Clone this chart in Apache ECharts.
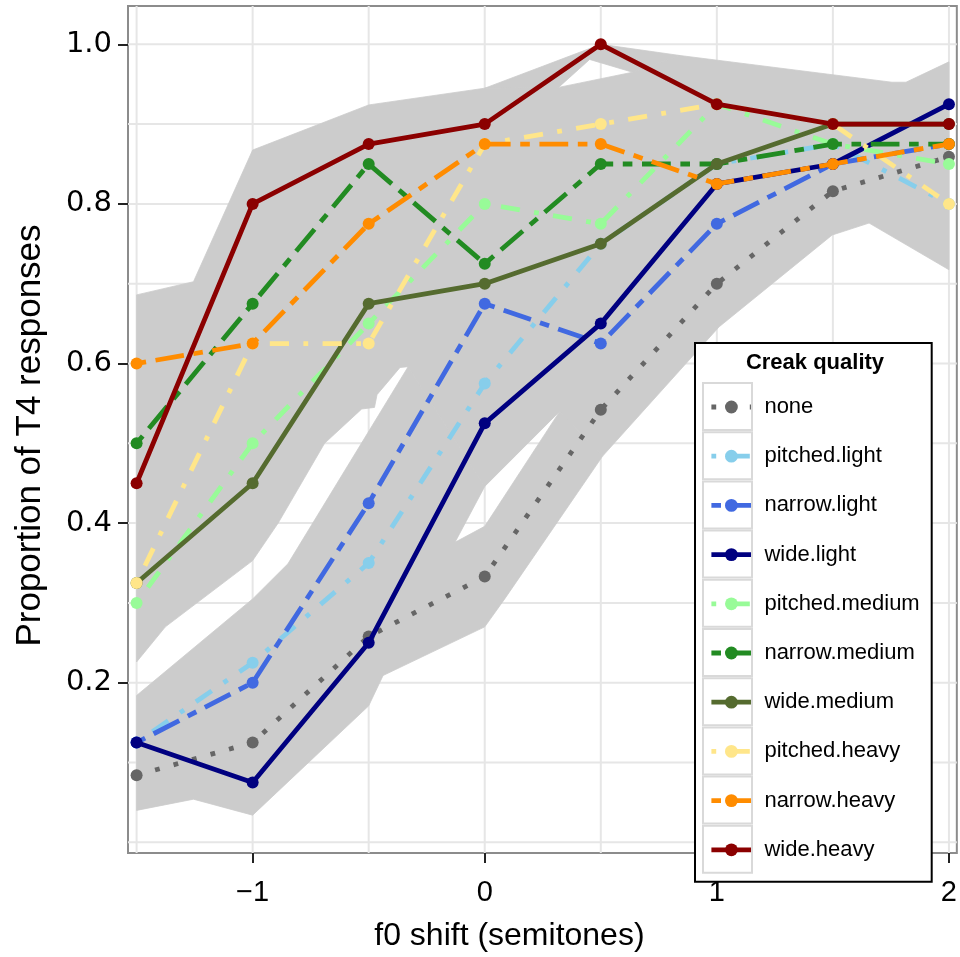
<!DOCTYPE html>
<html>
<head>
<meta charset="utf-8">
<title>Creak quality</title>
<script src="https://cdn.jsdelivr.net/npm/echarts@6.0.0/dist/echarts.min.js"></script>
<style>
  html, body { margin: 0; padding: 0; background: #fff; }
  #main { width: 960px; height: 957px; }
</style>
</head>
<body>
<div id="main"></div>
<script>
// f0 shift steps (semitones)
var shifts = [-1.5, -1, -0.5, 0, 0.5, 1, 1.5, 2];

// proportion of T4 responses per creak quality
var none          = [0.084, 0.125, 0.258, 0.333, 0.542, 0.700, 0.816, 0.859];
var pitchedLight  = [0.125, 0.225, 0.350, 0.575, 0.750, 0.850, 0.875, 0.800];
var narrowLight   = [0.125, 0.200, 0.425, 0.675, 0.625, 0.775, 0.850, 0.875];
var wideLight     = [0.125, 0.075, 0.250, 0.525, 0.650, 0.825, 0.850, 0.925];
var pitchedMedium = [0.300, 0.500, 0.650, 0.800, 0.775, 0.925, 0.875, 0.850];
var narrowMedium  = [0.500, 0.675, 0.850, 0.725, 0.850, 0.850, 0.875, 0.875];
var wideMedium    = [0.325, 0.450, 0.675, 0.700, 0.750, 0.850, 0.900, 0.900];
var pitchedHeavy  = [0.325, 0.625, 0.625, 0.875, 0.900, 0.925, 0.900, 0.800];
var narrowHeavy   = [0.600, 0.625, 0.775, 0.875, 0.875, 0.825, 0.850, 0.875];
var wideHeavy     = [0.450, 0.800, 0.875, 0.900, 1.000, 0.925, 0.900, 0.900];

var creakNames = ['none', 'pitched.light', 'narrow.light', 'wide.light',
  'pitched.medium', 'narrow.medium', 'wide.medium',
  'pitched.heavy', 'narrow.heavy', 'wide.heavy'];
var creakValues = [none, pitchedLight, narrowLight, wideLight,
  pitchedMedium, narrowMedium, wideMedium,
  pitchedHeavy, narrowHeavy, wideHeavy];

// grey confidence ribbons (outline of the union), [shift, proportion]
var bandUpper = [
  [-1.5, 0.686], [-1.255, 0.7025], [-1, 0.8675], [-0.5, 0.924], [0, 0.945],
  [0.318, 0.946], [0.637, 0.965], [0.84, 0.986], [1.754, 0.9525], [1.815, 0.9525], [2, 0.978],
  [2, 0.7175], [1.656, 0.776], [1.497, 0.761], [1.01, 0.646], [0.895, 0.609], [0.508, 0.484],
  [0.323, 0.54], [0, 0.446], [-0.33, 0.596], [-0.365, 0.595], [-0.464, 0.561], [-0.475, 0.545],
  [-0.53, 0.543], [-0.69, 0.50], [-0.89, 0.40], [-1, 0.353], [-1.376, 0.27], [-1.5, 0.226]
];
var bandLower = [
  [-1.5, 0.184], [-1, 0.305], [-0.848, 0.349], [-0.33, 0.596], [0, 0.446], [-0.128, 0.376],
  [0, 0.396], [0.323, 0.54], [0.508, 0.484], [0.086, 0.305], [0, 0.27], [-0.438, 0.209],
  [-0.5, 0.171], [-1, 0.034], [-1.255, 0.054], [-1.5, 0.040]
];
var bandPeak = [
  [0, 0.945], [0.5, 1.0], [0.84, 0.986], [0.637, 0.965], [0.452, 0.981], [0.318, 0.946]
];

var xGridValues = [-1.5, -1, -0.5, 0, 0.5, 1, 1.5, 2];
var yGridValues = [0, 0.1, 0.2, 0.3, 0.4, 0.5, 0.6, 0.7, 0.8, 0.9, 1.0];
var xTickValues = [-1, 0, 1, 2];
var yTickValues = [0.2, 0.4, 0.6, 0.8, 1.0];

var X_MIN = -1.537, X_MAX = 2.034;
var Y_MIN = -0.0134, Y_MAX = 1.048;

var FONT = "'Liberation Sans', Arial, Helvetica, sans-serif";

var colors = {
  'none': '#666666', 'pitched.light': '#87CEEB', 'narrow.light': '#4169E1', 'wide.light': '#000080',
  'pitched.medium': '#98FB98', 'narrow.medium': '#228B22', 'wide.medium': '#556B2F',
  'pitched.heavy': '#FFE68A', 'narrow.heavy': '#FF8C00', 'wide.heavy': '#8B0000'
};

// R style line types, lwd unit ~4.8px
var U = 4.8;
var dotted = [U, 3 * U];
var dotdash = [U, 3 * U, 4 * U, 3 * U];
var twodash = [2 * U, 2 * U, 6 * U, 2 * U];
function lineTypeFor(name) {
  if (name === 'none') return dotted;
  if (name.indexOf('pitched') === 0) return dotdash;
  if (name.indexOf('narrow') === 0) return twodash;
  return 'solid';
}

function drawBackground(params, api) {
  var children = [];
  xGridValues.forEach(function (v) {
    var a = api.coord([v, Y_MIN]), b = api.coord([v, Y_MAX]);
    children.push({ type: 'line', shape: { x1: a[0], y1: a[1], x2: b[0], y2: b[1] },
      style: { stroke: '#E6E6E6', lineWidth: 2 } });
  });
  yGridValues.forEach(function (v) {
    var a = api.coord([X_MIN, v]), b = api.coord([X_MAX, v]);
    children.push({ type: 'line', shape: { x1: a[0], y1: a[1], x2: b[0], y2: b[1] },
      style: { stroke: '#E6E6E6', lineWidth: 2 } });
  });
  [bandUpper, bandLower, bandPeak].forEach(function (band) {
    children.push({ type: 'polygon',
      shape: { points: band.map(function (p) { return api.coord(p); }) },
      style: { fill: '#CCCCCC', stroke: '#CCCCCC', lineWidth: 0.8 } });
  });
  return { type: 'group', children: children };
}

var seriesList = [{
  name: 'ribbons',
  type: 'custom',
  silent: true,
  z: 1,
  renderItem: drawBackground,
  data: [[0, 0]]
}];

creakNames.forEach(function (name, i) {
  seriesList.push({
    name: name,
    type: 'line',
    z: 2 + i,
    data: shifts.map(function (s, j) { return [s, creakValues[i][j]]; }),
    symbol: 'circle',
    symbolSize: 12,
    showSymbol: true,
    itemStyle: { color: colors[name] },
    lineStyle: { color: colors[name], width: U, type: lineTypeFor(name), cap: 'butt' },
    emphasis: { disabled: true }
  });
});

var keyBoxes = creakNames.map(function (name, i) {
  return {
    type: 'rect', silent: true, z: 20,
    shape: { x: 703, y: 383 + i * 49.2, width: 49, height: 47 },
    style: { fill: null, stroke: '#D9D9D9', lineWidth: 2 }
  };
});

var myChart = echarts.init(document.getElementById('main'));

var option = {
  animation: false,
  backgroundColor: '#fff',
  grid: {
    left: 128, top: 6, width: 830, height: 849,
    show: true, borderColor: '#8C8C8C', borderWidth: 2, backgroundColor: '#fff'
  },
  xAxis: {
    type: 'value', min: X_MIN, max: X_MAX,
    name: 'f0 shift (semitones)', nameLocation: 'middle', nameGap: 67,
    nameTextStyle: { fontSize: 32, color: '#000', fontFamily: FONT, padding: [0, 66, 0, 0] },
    axisLine: { show: false, onZero: false },
    splitLine: { show: false },
    axisTick: { show: true, customValues: xTickValues, length: 10, lineStyle: { color: '#222', width: 2 } },
    axisLabel: {
      customValues: xTickValues, margin: 25, fontSize: 29, color: '#000', fontFamily: FONT,
      formatter: function (v) { return v < 0 ? '\u2212' + (-v) : String(v); }
    }
  },
  yAxis: {
    type: 'value', min: Y_MIN, max: Y_MAX,
    name: 'Proportion of T4 responses', nameLocation: 'middle', nameGap: 80,
    nameTextStyle: { fontSize: 35, color: '#000', fontFamily: FONT, padding: [0, 12, 0, 0] },
    axisLine: { show: false, onZero: false },
    splitLine: { show: false },
    axisTick: { show: true, customValues: yTickValues, length: 10, lineStyle: { color: '#222', width: 2 } },
    axisLabel: {
      customValues: yTickValues, margin: 16, fontSize: 29, color: '#000',
      fontFamily: "'DejaVu Sans', sans-serif",
      formatter: function (v) { return v.toFixed(1); }
    }
  },
  legend: {
    data: creakNames,
    orient: 'vertical',
    left: 695, top: 343,
    padding: [52, 12, 20, 14],
    itemGap: 25.2,
    itemWidth: 40,
    itemHeight: 16,
    selectedMode: false,
    backgroundColor: '#fff',
    borderColor: '#000',
    borderWidth: 2,
    z: 10,
    lineStyle: { width: U },
    textStyle: { fontSize: 22, lineHeight: 24, color: '#000', fontFamily: FONT, padding: [0, 0, 0, 8] }
  },
  graphic: keyBoxes.concat([{
    type: 'text', silent: true, z: 20,
    style: {
      text: 'Creak quality', x: 815, y: 363, textAlign: 'center', textVerticalAlign: 'middle',
      font: 'bold 22px ' + FONT, fill: '#000'
    }
  }]),
  series: seriesList
};

myChart.setOption(option);
</script>
</body>
</html>
